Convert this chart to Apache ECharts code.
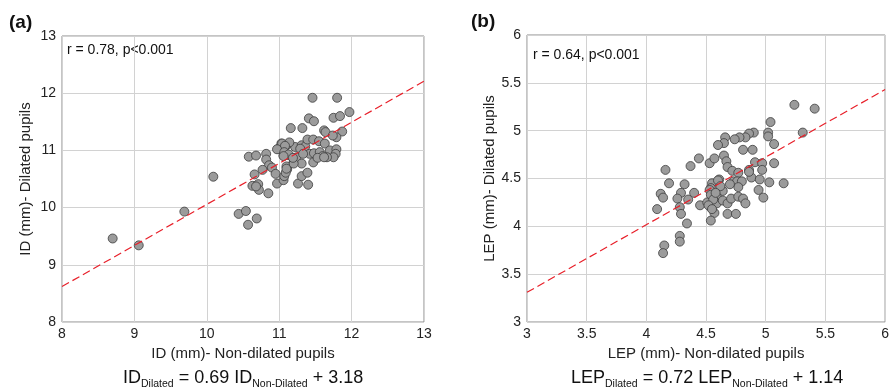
<!DOCTYPE html>
<html>
<head>
<meta charset="UTF-8">
<title>ID and LEP: dilated vs non-dilated pupils</title>
<script src="https://cdn.jsdelivr.net/npm/echarts@6/dist/echarts.min.js"></script>
<style>
  html, body { margin: 0; padding: 0; background: #fff; }
  #chart { width: 892px; height: 390px; }
</style>
</head>
<body>
<div id="chart"></div>
<script>
// panel (a): ID (mm), [non-dilated, dilated]
const idPoints = [
  [8.70, 9.46], [9.06, 9.34], [9.69, 9.93], [10.09, 10.54],
  [10.44, 9.89], [10.54, 9.94], [10.57, 9.70], [10.69, 9.81],
  [10.63, 10.38], [10.71, 10.41], [10.72, 10.31], [10.68, 10.37], [10.85, 10.25],
  [10.97, 10.42], [11.06, 10.48], [11.26, 10.42], [11.40, 10.40],
  [10.58, 10.89], [10.68, 10.91], [10.82, 10.94], [10.82, 10.84], [10.86, 10.74],
  [10.90, 10.70], [10.77, 10.66], [10.66, 10.58], [10.95, 10.59],
  [11.07, 10.55], [11.11, 10.67], [11.10, 10.72], [11.31, 10.55], [11.39, 10.61],
  [11.20, 10.80], [11.24, 10.88], [11.31, 10.77], [11.09, 10.61], [11.10, 10.68],
  [10.99, 11.03], [11.03, 11.12], [11.10, 11.09], [11.06, 10.91], [11.12, 10.92],
  [11.22, 11.06], [11.31, 11.09], [11.36, 11.07], [11.29, 11.03],
  [11.46, 11.92], [11.80, 11.92], [11.97, 11.67], [11.75, 11.57], [11.84, 11.60],
  [11.41, 11.56], [11.48, 11.51], [11.16, 11.39], [11.32, 11.39], [11.62, 11.35],
  [11.64, 11.32], [11.87, 11.33], [11.79, 11.23], [11.74, 11.26], [11.14, 11.14],
  [11.04, 11.12], [11.08, 11.08], [10.97, 11.02], [11.39, 11.19], [11.47, 11.19],
  [11.55, 11.16], [11.63, 11.12],
  [11.42, 10.94], [11.48, 10.95], [11.56, 10.97], [11.60, 10.90], [11.70, 11.00],
  [11.79, 11.02], [11.78, 10.94], [11.75, 10.88], [11.47, 10.79], [11.20, 10.77],
  [11.66, 10.88], [11.53, 10.87], [11.07, 10.97], [11.13, 10.93], [11.06, 10.90],
  [11.19, 10.87], [11.33, 10.94], [11.62, 10.88]
];
// panel (b): LEP (mm), [non-dilated, dilated]
const lepPoints = [
  [5.24, 5.27], [5.41, 5.23], [5.31, 4.98], [5.04, 5.09], [5.02, 4.98], [5.02, 4.94],
  [5.07, 4.86], [5.07, 4.66], [5.03, 4.46], [5.15, 4.45],
  [4.90, 4.98], [4.86, 4.97], [4.83, 4.93], [4.78, 4.93], [4.74, 4.91], [4.66, 4.93],
  [4.65, 4.87], [4.60, 4.85], [4.81, 4.80], [4.89, 4.80],
  [4.44, 4.71], [4.53, 4.66], [4.57, 4.71], [4.65, 4.74], [4.67, 4.68], [4.68, 4.62],
  [4.72, 4.58], [4.77, 4.56], [4.86, 4.59], [4.91, 4.67], [4.97, 4.66], [4.97, 4.59],
  [4.88, 4.51], [4.95, 4.49], [4.86, 4.57], [4.61, 4.49], [4.55, 4.45], [4.73, 4.47],
  [4.76, 4.47], [4.80, 4.47], [4.77, 4.41], [4.54, 4.40], [4.64, 4.37], [4.94, 4.38],
  [4.98, 4.30],
  [4.37, 4.63], [4.16, 4.59], [4.19, 4.45], [4.32, 4.44], [4.29, 4.35], [4.12, 4.34],
  [4.14, 4.30], [4.26, 4.29], [4.40, 4.35], [4.35, 4.28], [4.28, 4.20], [4.09, 4.18],
  [4.29, 4.13], [4.34, 4.03], [4.45, 4.22], [4.28, 3.90], [4.28, 3.84], [4.15, 3.80],
  [4.14, 3.72],
  [4.51, 4.25], [4.53, 4.38], [4.54, 4.33], [4.54, 4.20], [4.57, 4.14], [4.54, 4.06],
  [4.59, 4.31], [4.59, 4.24], [4.56, 4.28], [4.64, 4.27], [4.68, 4.24], [4.71, 4.29],
  [4.68, 4.13], [4.75, 4.13], [4.77, 4.31], [4.81, 4.29], [4.83, 4.24], [4.52, 4.22],
  [4.55, 4.18], [4.60, 4.48], [4.62, 4.42], [4.70, 4.44], [4.58, 4.35]
];
// fitted lines (ends at the axis limits)
const idFit = [[8, 8.62], [13, 12.21]];
const lepFit = [[3, 3.31], [6, 5.43]];

const FONT = '"Liberation Sans", Arial, sans-serif';
const chart = echarts.init(document.getElementById('chart'));

function axis(idx, min, max, step, name, isY) {
  return {
    type: 'value', gridIndex: idx, min: min, max: max, interval: step,
    name: name, nameLocation: 'middle', nameGap: isY ? 29 : 18,
    nameTextStyle: { fontFamily: FONT, fontSize: 15, color: '#222' },
    axisLine: { show: false },
    axisTick: { show: false },
    axisLabel: { fontFamily: FONT, fontSize: 14, color: '#222', margin: isY ? 6 : 5 },
    splitLine: { show: true, lineStyle: { color: '#d2d2d2', width: 1 } }
  };
}
function scatter(idx, data) {
  return {
    type: 'scatter', xAxisIndex: idx, yAxisIndex: idx, data: data, symbolSize: 9,
    itemStyle: { color: '#9b9b9b', borderColor: '#3c3c3c', borderWidth: 0.8, opacity: 1 },
    z: 3
  };
}
function fit(idx, data) {
  return {
    type: 'line', xAxisIndex: idx, yAxisIndex: idx, data: data, symbol: 'none',
    lineStyle: { color: '#e8202a', width: 1.2, type: [8, 4] }, z: 4
  };
}
function eq(x, main, sub1, mid, sub2, tail) {
  return {
    type: 'text', left: x, top: 369,
    style: {
      text: '{m|' + main + '}{s|' + sub1 + '}{m|' + mid + '}{s|' + sub2 + '}{m|' + tail + '}',
      rich: {
        m: { fontFamily: FONT, fontSize: 18, fill: '#111' },
        s: { fontFamily: FONT, fontSize: 10.5, fill: '#111', padding: [13, 0, 0, 0] }
      }
    }
  };
}

chart.setOption({
  animation: false,
  grid: [
    { left: 62, right: 468, top: 36, bottom: 68, show: true, borderColor: '#8a8a8a', borderWidth: 1 },
    { left: 527, right: 2, top: 35, bottom: 68, show: true, borderColor: '#8a8a8a', borderWidth: 1 }
  ],
  xAxis: [
    axis(0, 8, 13, 1, 'ID (mm)- Non-dilated pupils', false),
    axis(1, 3, 6, 0.5, 'LEP (mm)- Non-dilated pupils', false)
  ],
  yAxis: [
    axis(0, 8, 13, 1, 'ID (mm)- Dilated pupils', true),
    axis(1, 3, 6, 0.5, 'LEP (mm)- Dilated pupils', true)
  ],
  series: [
    scatter(0, idPoints), fit(0, idFit),
    scatter(1, lepPoints), fit(1, lepFit)
  ],
  graphic: [
    { type: 'text', left: 9, top: 13, style: { text: '(a)', fontFamily: FONT, fontSize: 19, fontWeight: 'bold', fill: '#111' } },
    { type: 'text', left: 471, top: 12, style: { text: '(b)', fontFamily: FONT, fontSize: 19, fontWeight: 'bold', fill: '#111' } },
    { type: 'text', left: 67, top: 43, style: { text: 'r = 0.78, p<0.001', fontFamily: FONT, fontSize: 14, fill: '#111' } },
    { type: 'text', left: 533, top: 48, style: { text: 'r = 0.64, p<0.001', fontFamily: FONT, fontSize: 14, fill: '#111' } },
    eq(123, 'ID', 'Dilated', ' = 0.69 ID', 'Non-Dilated', ' + 3.18'),
    eq(571, 'LEP', 'Dilated', ' = 0.72 LEP', 'Non-Dilated', ' + 1.14')
  ]
});
</script>
</body>
</html>
